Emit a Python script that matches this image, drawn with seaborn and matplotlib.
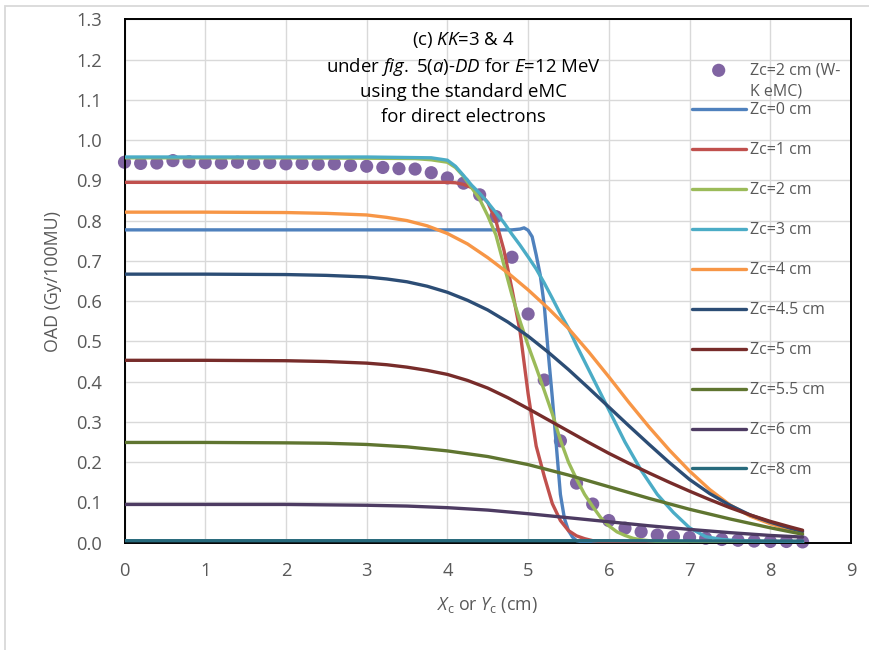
import matplotlib
matplotlib.use("Agg")
import matplotlib.pyplot as plt
import seaborn as sns
from matplotlib.ticker import MultipleLocator, FormatStrFormatter
from matplotlib.patches import Rectangle

# ---- data -------------------------------------------------------------
# W-K eMC points, Zc = 2 cm
x_wk = [0.0, 0.2, 0.4, 0.6, 0.8, 1.0, 1.2, 1.4, 1.6, 1.8, 2.0, 2.2, 2.4, 2.6,
        2.8, 3.0, 3.2, 3.4, 3.6, 3.8, 4.0, 4.2, 4.4, 4.6, 4.8, 5.0, 5.2, 5.4,
        5.6, 5.8, 6.0, 6.2, 6.4, 6.6, 6.8, 7.0, 7.2, 7.4, 7.6, 7.8, 8.0, 8.2, 8.4]
oad_wk = [0.945, 0.942, 0.943, 0.949, 0.946, 0.944, 0.943, 0.945, 0.942, 0.944,
          0.941, 0.942, 0.940, 0.941, 0.937, 0.935, 0.932, 0.929, 0.928, 0.919,
          0.906, 0.893, 0.864, 0.810, 0.709, 0.568, 0.404, 0.253, 0.148, 0.096,
          0.055, 0.036, 0.027, 0.019, 0.015, 0.013, 0.011, 0.008, 0.006, 0.004,
          0.003, 0.003, 0.002]

x_zc0 = [0.0, 1.0, 2.0, 3.0, 4.0, 4.6, 4.8, 4.9, 4.95, 5.0, 5.05, 5.1, 5.15, 5.2,
         5.25, 5.3, 5.35, 5.4, 5.45, 5.5, 5.55, 5.6, 5.7, 6.0, 7.0, 8.0, 8.4]
oad_zc0 = [0.777, 0.777, 0.777, 0.777, 0.777, 0.777, 0.777, 0.779, 0.782, 0.776,
           0.760, 0.715, 0.665, 0.590, 0.470, 0.360, 0.240, 0.120, 0.060, 0.030,
           0.014, 0.005, 0.001, 0.0, 0.0, 0.0, 0.0]

x_zc1 = [0.0, 1.0, 2.0, 3.0, 4.0, 4.1, 4.2, 4.3, 4.4, 4.5, 4.6, 4.7, 4.8, 4.9,
         5.0, 5.1, 5.2, 5.3, 5.4, 5.5, 5.6, 5.7, 5.8, 6.0, 6.5, 7.0, 8.0, 8.4]
oad_zc1 = [0.895, 0.895, 0.895, 0.895, 0.895, 0.894, 0.890, 0.882, 0.868, 0.845,
           0.800, 0.727, 0.630, 0.525, 0.370, 0.240, 0.165, 0.097, 0.055, 0.030,
           0.017, 0.010, 0.005, 0.001, 0.0, 0.0, 0.0, 0.0]

x_zc2 = [0.0, 1.0, 2.0, 3.0, 3.6, 3.8, 4.0, 4.1, 4.2, 4.3, 4.4, 4.5, 4.6, 4.7,
         4.8, 4.9, 5.0, 5.1, 5.2, 5.3, 5.4, 5.5, 5.6, 5.7, 5.8, 5.9, 6.0, 6.1,
         6.2, 6.3, 6.4, 6.6, 7.0, 8.0, 8.4]
oad_zc2 = [0.956, 0.956, 0.956, 0.955, 0.954, 0.951, 0.945, 0.932, 0.910, 0.882,
           0.853, 0.812, 0.765, 0.690, 0.615, 0.550, 0.490, 0.435, 0.378, 0.320,
           0.255, 0.200, 0.158, 0.120, 0.090, 0.062, 0.042, 0.027, 0.018, 0.011,
           0.007, 0.003, 0.001, 0.0, 0.0]

x_zc3 = [0.0, 1.0, 2.0, 3.0, 3.8, 4.0, 4.1, 4.2, 4.3, 4.4, 4.5, 4.6, 4.7, 4.8,
         4.9, 5.0, 5.1, 5.2, 5.3, 5.4, 5.5, 5.6, 5.7, 5.8, 5.9, 6.0, 6.2, 6.4,
         6.6, 6.8, 7.0, 7.2, 7.4, 7.6, 8.0, 8.4]
oad_zc3 = [0.958, 0.958, 0.958, 0.958, 0.956, 0.950, 0.935, 0.912, 0.888, 0.868,
           0.845, 0.820, 0.795, 0.766, 0.739, 0.710, 0.680, 0.645, 0.607, 0.568,
           0.533, 0.490, 0.450, 0.410, 0.370, 0.330, 0.250, 0.180, 0.120, 0.075,
           0.037, 0.015, 0.008, 0.005, 0.003, 0.002]

x_zc4 = [0.0, 1.0, 2.0, 2.5, 3.0, 3.25, 3.5, 3.75, 4.0, 4.25, 4.5, 4.75, 5.0,
         5.25, 5.5, 5.75, 6.0, 6.25, 6.5, 6.75, 7.0, 7.25, 7.5, 7.75, 8.0, 8.25, 8.4]
oad_zc4 = [0.821, 0.821, 0.820, 0.818, 0.814, 0.808, 0.800, 0.787, 0.768, 0.742,
           0.708, 0.670, 0.628, 0.582, 0.532, 0.474, 0.412, 0.348, 0.287, 0.230,
           0.178, 0.132, 0.094, 0.066, 0.047, 0.032, 0.024]

x_zc45 = [0.0, 1.0, 2.0, 2.5, 3.0, 3.25, 3.5, 3.75, 4.0, 4.25, 4.5, 4.75, 5.0,
          5.25, 5.5, 5.75, 6.0, 6.25, 6.5, 6.75, 7.0, 7.25, 7.5, 7.75, 8.0, 8.25, 8.4]
oad_zc45 = [0.667, 0.667, 0.666, 0.664, 0.660, 0.655, 0.648, 0.637, 0.622, 0.602,
            0.578, 0.548, 0.513, 0.473, 0.430, 0.384, 0.337, 0.290, 0.244, 0.199,
            0.157, 0.122, 0.093, 0.069, 0.051, 0.036, 0.028]

x_zc5 = [0.0, 1.0, 2.0, 2.5, 3.0, 3.25, 3.5, 3.75, 4.0, 4.25, 4.5, 4.75, 5.0,
         5.25, 5.5, 5.75, 6.0, 6.25, 6.5, 6.75, 7.0, 7.25, 7.5, 7.75, 8.0, 8.25, 8.4]
oad_zc5 = [0.453, 0.453, 0.452, 0.450, 0.446, 0.442, 0.436, 0.428, 0.418, 0.403,
           0.384, 0.360, 0.333, 0.305, 0.277, 0.249, 0.222, 0.197, 0.173, 0.150,
           0.128, 0.107, 0.087, 0.069, 0.053, 0.039, 0.031]

x_zc55 = [0.0, 1.0, 2.0, 2.5, 3.0, 3.5, 4.0, 4.5, 5.0, 5.5, 6.0, 6.5, 7.0, 7.5,
          8.0, 8.4]
oad_zc55 = [0.249, 0.249, 0.248, 0.247, 0.244, 0.238, 0.228, 0.214, 0.194,
            0.168, 0.139, 0.110, 0.083, 0.059, 0.037, 0.021]

x_zc6 = [0.0, 1.0, 2.0, 2.5, 3.0, 3.5, 4.0, 4.5, 5.0, 5.5, 6.0, 6.5, 7.0, 7.5,
         8.0, 8.4]
oad_zc6 = [0.095, 0.095, 0.095, 0.094, 0.093, 0.091, 0.087, 0.081, 0.072,
           0.062, 0.052, 0.042, 0.033, 0.025, 0.018, 0.014]

x_zc8 = [0.0, 2.0, 4.0, 6.0, 8.0, 8.4]
oad_zc8 = [0.005, 0.005, 0.005, 0.005, 0.004, 0.004]

series = [
    ("Zc=0 cm", x_zc0, oad_zc0, "#4F81BD"),
    ("Zc=1 cm", x_zc1, oad_zc1, "#C0504D"),
    ("Zc=2 cm", x_zc2, oad_zc2, "#9BBB59"),
    ("Zc=3 cm", x_zc3, oad_zc3, "#4BACC6"),
    ("Zc=4 cm", x_zc4, oad_zc4, "#F79646"),
    ("Zc=4.5 cm", x_zc45, oad_zc45, "#2C4D75"),
    ("Zc=5 cm", x_zc5, oad_zc5, "#772C2A"),
    ("Zc=5.5 cm", x_zc55, oad_zc55, "#5F7530"),
    ("Zc=6 cm", x_zc6, oad_zc6, "#4D3B62"),
    ("Zc=8 cm", x_zc8, oad_zc8, "#276A7C"),
]

x_ticks = [0, 1, 2, 3, 4, 5, 6, 7, 8, 9]

# ---- style ------------------------------------------------------------
sns.set_theme(style="white")
plt.rcParams["font.family"] = ["Open Sans", "DejaVu Sans"]
plt.rcParams["mathtext.fontset"] = "custom"
plt.rcParams["mathtext.rm"] = "Open Sans"
plt.rcParams["mathtext.it"] = "Open Sans:italic"
plt.rcParams["mathtext.bf"] = "Open Sans:bold"

GRAY = "#595959"
W, H = 869, 650
TICK_FS = 13.2
LABEL_FS = 12.8
TITLE_FS = 13.4
LEG_FS = 11.5
fig = plt.figure(figsize=(W / 100, H / 100), dpi=100)
fig.patch.set_facecolor("white")

# light outer chart border
fig.patches.append(Rectangle((5 / W, -0.2), 1.2, 1.2 - 6 / H,
                             transform=fig.transFigure, fill=False,
                             edgecolor="#D9D9D9", lw=1.3, zorder=0))

left, right, top, bottom = 124.5, 851.0, 19.3, 542.7
ax = fig.add_axes([left / W, 1 - bottom / H, (right - left) / W, (bottom - top) / H])

sns.scatterplot(x=x_wk, y=oad_wk, ax=ax, color="#8064A2", s=90,
                edgecolor="none", linewidth=0, label="Zc=2 cm (W-",
                zorder=2, clip_on=False)
for name, xs, ys, col in series:
    sns.lineplot(x=xs, y=ys, ax=ax, color=col, lw=2.4, label=name,
                 sort=False, zorder=3)

ax.set_xlim(0, 9)
ax.set_ylim(0, 1.3)
ax.set_xticks(x_ticks)
ax.xaxis.set_minor_locator(MultipleLocator(0.5))
ax.yaxis.set_major_locator(MultipleLocator(0.1))
ax.yaxis.set_minor_locator(MultipleLocator(0.05))
ax.yaxis.set_major_formatter(FormatStrFormatter("%.1f"))

ax.grid(True, which="major", color="#D9D9D9", lw=1.0, zorder=0)
ax.set_axisbelow(True)
for sp in ax.spines.values():
    sp.set_color("black")
    sp.set_linewidth(1.4)
    sp.set_visible(True)

ax.tick_params(which="major", direction="inout", length=8.5, width=1.4,
               color="black", labelcolor=GRAY, labelsize=TICK_FS)
ax.tick_params(axis="y", which="major", pad=12)
ax.tick_params(axis="x", which="major", pad=9.5)
ax.tick_params(which="minor", direction="out", length=3.6, width=1.4,
               color="black")
ax.tick_params(top=False, right=False, which="both")

ax.set_xlabel(r"$\mathit{X}_{\mathrm{c}}$ or $\mathit{Y}_{\mathrm{c}}$ (cm)",
              color=GRAY, fontsize=LABEL_FS, labelpad=11)
ax.set_ylabel("OAD (Gy/100MU)", color=GRAY, fontsize=LABEL_FS, labelpad=10)

# annotation block
tx = 463 / W
lines = [
    (45, r"(c) $\mathit{KK}$=3 & 4"),
    (72, r"under $\mathit{fig.}$ $\mathit{5(a)}$-$\mathit{DD}$ for $\mathit{E}$=12 MeV"),
    (97, "using the standard eMC"),
    (122, "for direct electrons"),
]
for yb, s in lines:
    fig.text(tx, 1 - yb / H, s, ha="center", va="baseline", fontsize=TITLE_FS,
             color="black")

# legend
handles, labels = ax.get_legend_handles_labels()
leg = ax.legend(handles, labels, loc="upper left",
                bbox_to_anchor=(691.7 / W, 1 - 62.5 / H),
                bbox_transform=fig.transFigure, frameon=False, fontsize=LEG_FS,
                handlelength=3.38, handletextpad=0.25, labelspacing=1.5,
                borderpad=0, borderaxespad=0, scatterpoints=1)
for t in leg.get_texts():
    t.set_color(GRAY)
fig.text(750 / W, 1 - 92 / H, "K eMC)", ha="left", va="center",
         fontsize=LEG_FS, color=GRAY)

fig.savefig("out.png", dpi=100)
